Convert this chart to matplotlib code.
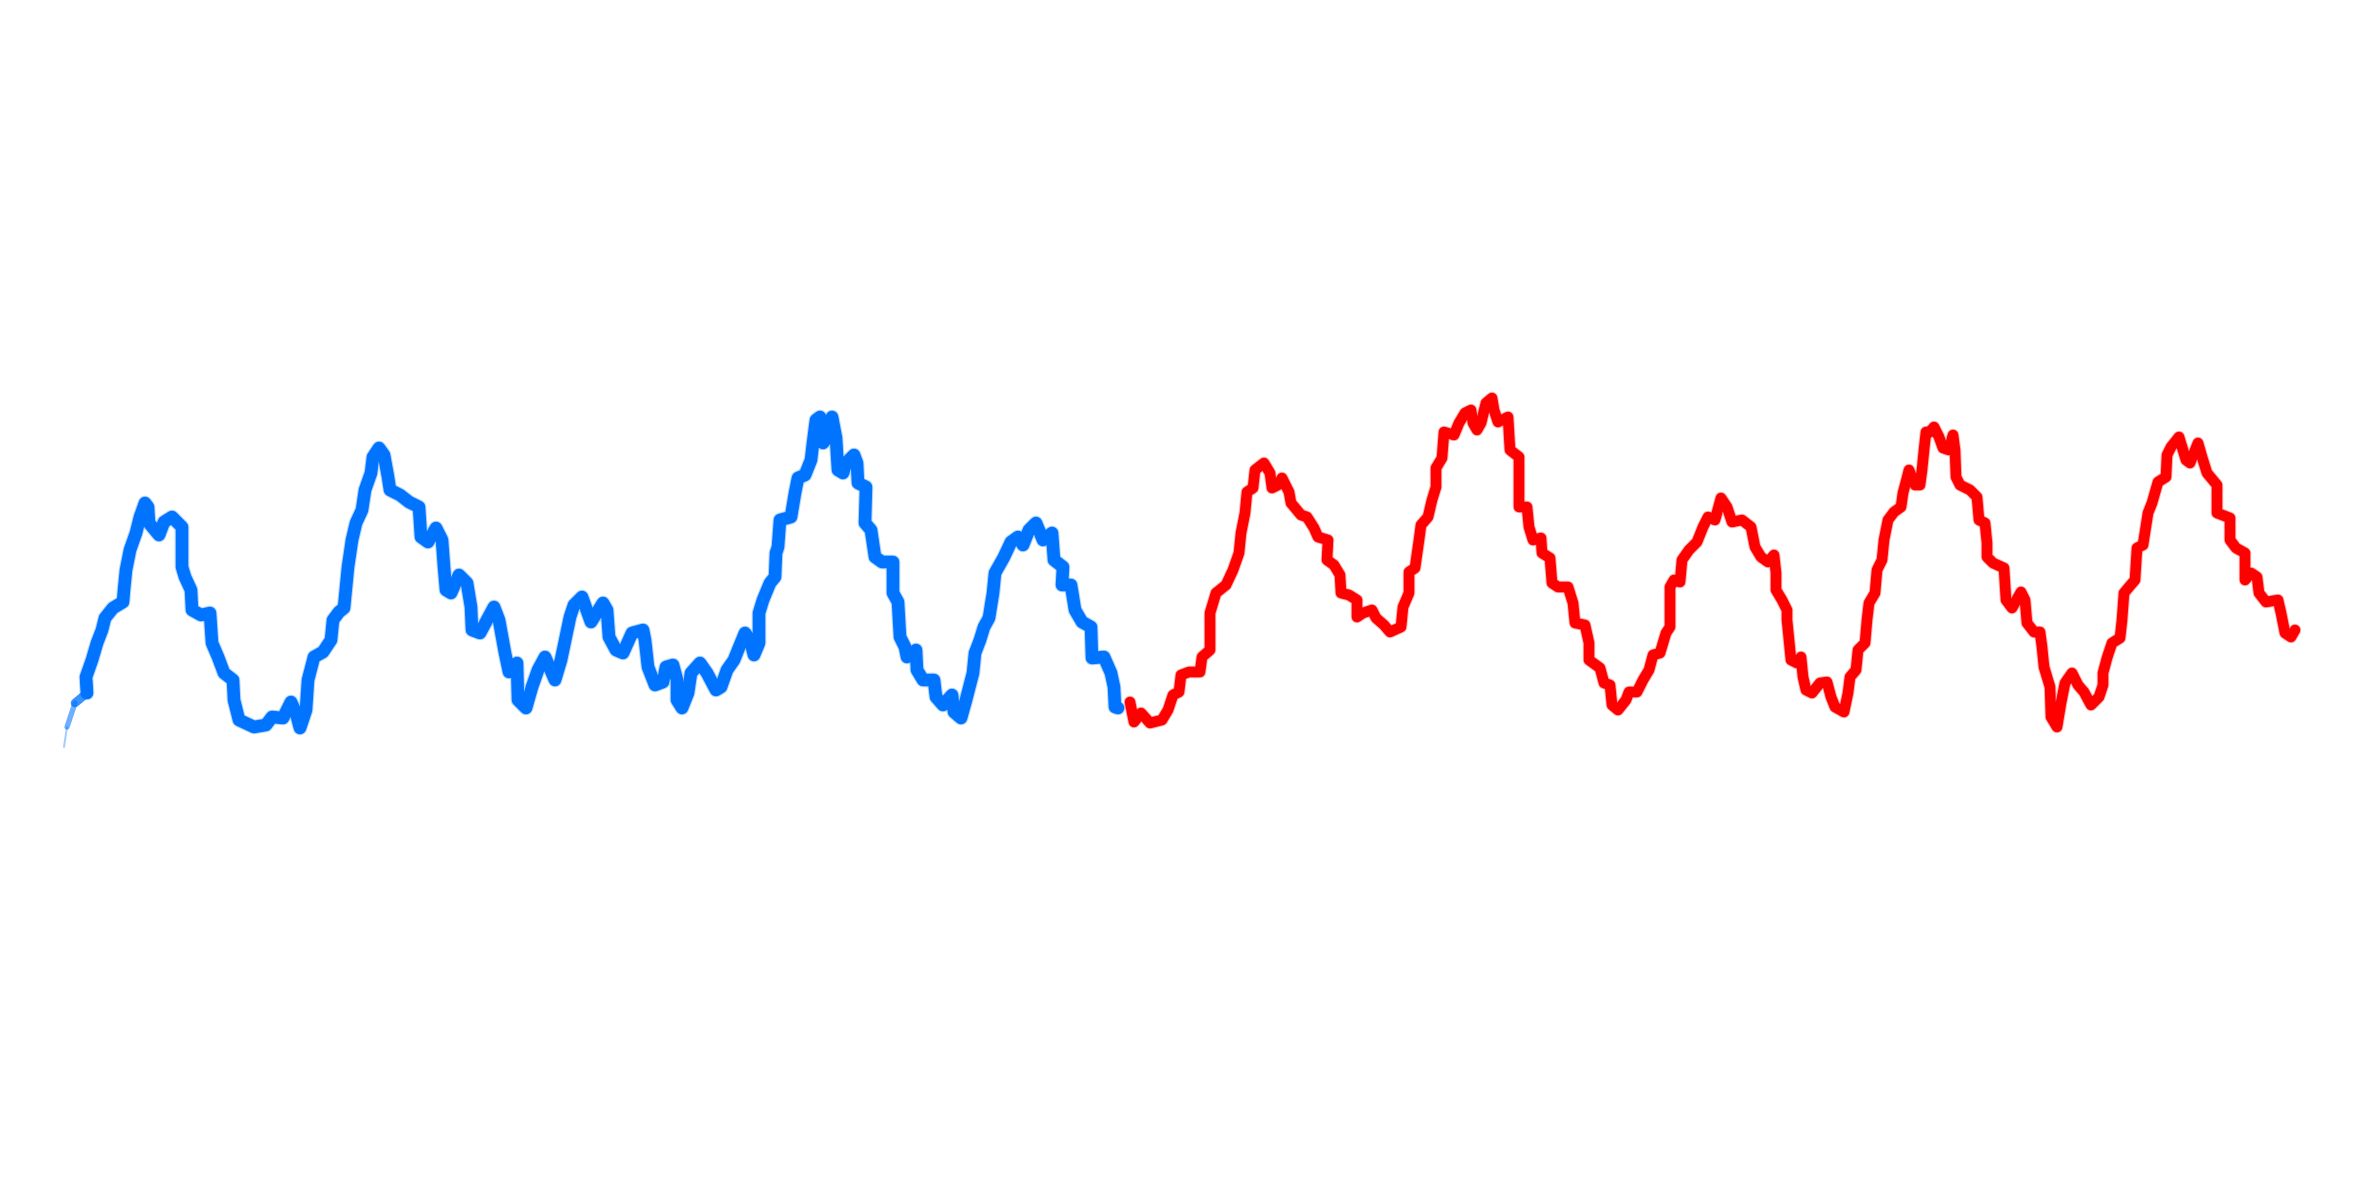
import numpy as np
import matplotlib
matplotlib.use("Agg")
import matplotlib.pyplot as plt
from matplotlib.collections import LineCollection

# traced series (x position, row; smaller row = higher)
blue_x = [64, 67, 75, 87, 86, 92, 97, 102, 105, 113, 123, 124, 126, 130, 136, 140, 145, 148, 149, 159,
          164, 172, 182, 182, 185, 191, 192, 201, 210, 212, 218, 224, 233, 234, 239, 254, 266, 272, 283, 291,
          296, 300, 306, 308, 314, 323, 331, 333, 339, 344, 346, 348, 352, 356, 362, 365, 371, 373, 379, 384,
          388, 390, 400, 409, 419, 421, 428, 436, 442, 444, 446, 451, 459, 467, 471, 472, 480, 494, 499, 505,
          509, 517, 518, 526, 532, 538, 545, 555, 561, 570, 574, 582, 591, 603, 607, 609, 616, 623, 632, 643,
          645, 648, 655, 663, 666, 673, 677, 677, 682, 688, 691, 700, 707, 716, 721, 727, 734, 738, 745, 750,
          754, 759, 759, 763, 770, 775, 776, 778, 780, 791, 795, 798, 805, 811, 813, 816, 820, 823, 829, 832,
          836, 838, 843, 846, 854, 857, 858, 866, 865, 871, 875, 882, 893, 893, 898, 900, 905, 907, 916, 917,
          923, 934, 936, 943, 952, 954, 961, 966, 973, 975, 980, 984, 989, 993, 995, 1004, 1011, 1018, 1023, 1029,
          1036, 1043, 1052, 1054, 1063, 1062, 1071, 1075, 1082, 1091, 1092, 1104, 1111, 1114, 1115, 1118]
blue_y = [747, 727, 703, 693, 677, 660, 643, 630, 618, 608, 602, 590, 570, 550, 533, 517, 503, 507, 523, 535,
          522, 517, 527, 567, 577, 590, 610, 615, 613, 643, 657, 673, 680, 700, 720, 727, 725, 717, 718, 702,
          713, 728, 710, 680, 657, 652, 640, 620, 612, 608, 587, 567, 540, 523, 510, 490, 473, 457, 448, 455,
          477, 490, 495, 502, 507, 537, 542, 528, 540, 567, 590, 593, 575, 583, 607, 630, 633, 607, 620, 653,
          672, 663, 700, 708, 687, 670, 657, 680, 660, 617, 605, 597, 622, 603, 610, 637, 650, 653, 633, 630,
          640, 667, 685, 682, 667, 665, 680, 700, 708, 693, 673, 663, 673, 690, 687, 670, 660, 650, 633, 640,
          655, 643, 613, 600, 583, 577, 553, 547, 520, 517, 493, 478, 475, 460, 443, 420, 417, 443, 435, 417,
          438, 470, 473, 463, 455, 463, 483, 487, 523, 530, 557, 562, 562, 593, 602, 637, 647, 657, 650, 670,
          680, 680, 697, 705, 695, 712, 718, 700, 673, 653, 640, 627, 618, 593, 573, 557, 542, 537, 545, 530,
          523, 540, 533, 560, 567, 585, 585, 610, 622, 627, 658, 657, 673, 687, 707, 708]

red_x = [1130, 1134, 1141, 1150, 1162, 1168, 1173, 1179, 1181, 1189, 1200, 1202, 1210, 1210, 1216, 1226, 1233, 1239, 1241, 1245,
         1247, 1253, 1255, 1264, 1270, 1272, 1278, 1282, 1289, 1291, 1301, 1307, 1314, 1318, 1328, 1327, 1334, 1340, 1341, 1349,
         1357, 1357, 1363, 1372, 1376, 1384, 1390, 1401, 1403, 1409, 1409, 1415, 1419, 1421, 1428, 1432, 1436, 1436, 1442, 1444,
         1454, 1459, 1465, 1471, 1473, 1477, 1481, 1486, 1492, 1494, 1498, 1508, 1510, 1519, 1519, 1527, 1529, 1533, 1541, 1542,
         1550, 1552, 1558, 1568, 1573, 1575, 1585, 1589, 1589, 1600, 1604, 1610, 1612, 1618, 1626, 1629, 1637, 1643, 1649, 1653,
         1660, 1666, 1670, 1670, 1674, 1680, 1682, 1689, 1697, 1703, 1708, 1715, 1721, 1727, 1732, 1742, 1751, 1755, 1761, 1768,
         1774, 1776, 1776, 1782, 1787, 1787, 1789, 1791, 1797, 1801, 1803, 1806, 1812, 1820, 1827, 1831, 1835, 1844, 1848, 1850,
         1856, 1858, 1865, 1867, 1869, 1875, 1877, 1882, 1884, 1888, 1894, 1901, 1903, 1907, 1909, 1915, 1920, 1922, 1924, 1926,
         1930, 1934, 1939, 1943, 1949, 1953, 1955, 1956, 1960, 1970, 1977, 1979, 1985, 1987, 1987, 1993, 2004, 2006, 2012, 2021,
         2025, 2027, 2034, 2040, 2042, 2044, 2050, 2051, 2057, 2061, 2065, 2072, 2078, 2084, 2091, 2099, 2103, 2103, 2107, 2112,
         2120, 2122, 2124, 2129, 2135, 2137, 2143, 2148, 2152, 2158, 2166, 2167, 2171, 2179, 2186, 2190, 2198, 2202, 2207, 2217,
         2217, 2230, 2230, 2236, 2245, 2245, 2251, 2257, 2259, 2266, 2278, 2281, 2285, 2291, 2295]
red_y = [702, 722, 713, 723, 720, 710, 695, 692, 675, 672, 672, 657, 650, 613, 593, 585, 570, 553, 533, 513,
         492, 488, 470, 463, 473, 488, 485, 478, 492, 503, 515, 517, 528, 537, 540, 560, 565, 575, 593, 595,
         600, 617, 613, 610, 618, 625, 632, 627, 607, 593, 572, 568, 540, 525, 517, 500, 487, 468, 458, 432,
         435, 423, 413, 410, 423, 430, 423, 403, 398, 410, 422, 417, 450, 457, 507, 507, 527, 540, 538, 553,
         558, 583, 587, 587, 603, 623, 625, 643, 660, 668, 683, 685, 705, 710, 700, 692, 692, 680, 670, 655,
         653, 633, 627, 587, 580, 582, 560, 550, 542, 527, 517, 520, 498, 507, 522, 520, 527, 547, 557, 562,
         555, 573, 590, 600, 610, 620, 640, 660, 663, 657, 677, 690, 693, 683, 682, 697, 707, 712, 693, 677,
         670, 650, 643, 620, 603, 593, 570, 560, 540, 520, 512, 507, 493, 478, 470, 485, 485, 470, 450, 432,
         432, 427, 437, 448, 450, 435, 450, 477, 485, 490, 497, 520, 523, 543, 557, 563, 568, 600, 608, 592,
         600, 623, 632, 632, 647, 667, 687, 717, 727, 703, 683, 673, 685, 692, 705, 697, 685, 673, 658, 643,
         638, 620, 593, 587, 580, 548, 545, 513, 503, 482, 477, 455, 447, 437, 460, 463, 443, 457, 473, 485,
         513, 518, 540, 548, 553, 580, 573, 577, 593, 602, 600, 613, 633, 637, 630]

blue = '#0073ff'
red = '#ff0000'

fig = plt.figure(figsize=(23.62, 11.81), dpi=100)
ax = fig.add_axes([0, 0, 1, 1])
ax.set_xlim(0, 2362)
ax.set_ylim(1181, 0)
ax.axis('off')

bx = np.array(blue_x, dtype=float)
by = np.array(blue_y, dtype=float)

# thin, faded start of the blue line
n_taper = 4
pts = np.column_stack([bx[:n_taper + 1], by[:n_taper + 1]]).reshape(-1, 1, 2)
segs = np.concatenate([pts[:-1], pts[1:]], axis=1)
widths = np.linspace(1.5, 8.5, n_taper)
alphas = np.linspace(0.35, 1.0, n_taper)
cols = [matplotlib.colors.to_rgba(blue, a) for a in alphas]
ax.add_collection(LineCollection(segs, linewidths=widths, colors=cols, capstyle='round', joinstyle='round'))

style = dict(solid_capstyle='round', solid_joinstyle='round')
# soft halo + main stroke
ax.plot(bx[n_taper - 1:], by[n_taper - 1:], color=blue, lw=10.5, alpha=0.3, **style)
ax.plot(bx[n_taper - 1:], by[n_taper - 1:], color=blue, lw=9.0, **style)
ax.plot(red_x, red_y, color=red, lw=9.0, alpha=0.3, **style)
ax.plot(red_x, red_y, color=red, lw=7.6, **style)

fig.savefig('out.png', dpi=100, facecolor='white')
